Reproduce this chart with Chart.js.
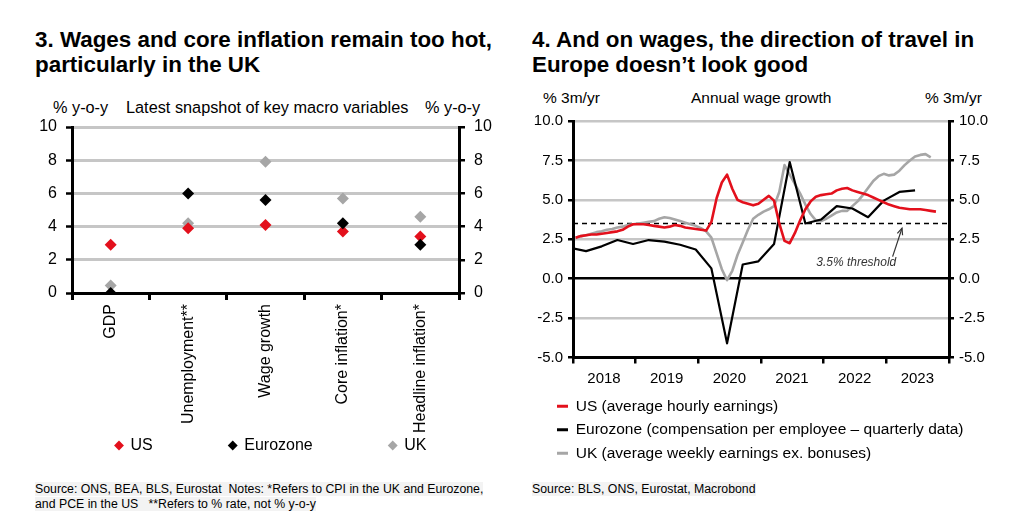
<!DOCTYPE html>
<html><head><meta charset="utf-8">
<script src="https://cdn.jsdelivr.net/npm/chart.js@4.4.0/dist/chart.umd.min.js"></script>
<style>
body{margin:0;background:#fff;width:1024px;height:531px;overflow:hidden;position:relative;font-family:"Liberation Sans",Arial,sans-serif;color:#000}
.t{position:absolute;white-space:nowrap}
.title{font-weight:bold;font-size:22.4px;line-height:25px}
.sub1{font-size:16.3px;line-height:18px;top:98px}
.sub2{font-size:15.5px;line-height:18px;top:89px}
.src{font-size:12.3px;line-height:14.5px;top:482px}
.src span{background:#f3f3f3}
#c1wrap{position:absolute;left:0;top:95px;width:520px;height:368px}
#c2wrap{position:absolute;left:520px;top:85px;width:504px;height:386px}
</style></head>
<body>
<div class="t title" style="left:35px;top:27px">3. Wages and core inflation remain too hot,<br>particularly in the UK</div>
<div class="t title" style="left:532px;top:27px">4. And on wages, the direction of travel in<br>Europe doesn’t look good</div>

<div class="t sub1" style="left:53px">% y-o-y</div>
<div class="t sub1" style="left:126px">Latest snapshot of key macro variables</div>
<div class="t sub1" style="left:425px">% y-o-y</div>

<div class="t sub2" style="left:543px">% 3m/yr</div>
<div class="t sub2" style="left:691px">Annual wage growth</div>
<div class="t sub2" style="left:925px">% 3m/yr</div>

<div id="c1wrap"><canvas id="c1"></canvas></div>
<div id="c2wrap"><canvas id="c2"></canvas></div>

<div class="t src" style="left:35px"><span>Source: ONS, BEA, BLS, Eurostat&nbsp; Notes: *Refers to CPI in the UK and Eurozone,</span><br><span>and PCE in the US &nbsp; **Refers to % rate, not % y-o-y</span></div>
<div class="t src" style="left:532px"><span>Source: BLS, ONS, Eurostat, Macrobond</span></div>

<script>
// ---------- Chart 3 data ----------
const snapCategories = ['GDP', 'Unemployment**', 'Wage growth', 'Core inflation*', 'Headline inflation*'];
const snapUS = [2.9, 3.9, 4.1, 3.7, 3.4];
const snapEZ = [0.0, 6.0, 5.6, 4.2, 2.9];
const snapUK = [0.45, 4.2, 7.9, 5.7, 4.6];
const snapTicks = [0, 2, 4, 6, 8, 10];

// ---------- Chart 4 data ----------
const wageStartYear = 2018;  // monthly series begin Jan 2018
const usWages = [2.6, 2.7, 2.75, 2.8, 2.8, 2.85, 2.9, 2.95, 3.0, 3.1, 3.3, 3.45,
  3.45, 3.45, 3.4, 3.35, 3.3, 3.25, 3.3, 3.4, 3.35, 3.25, 3.2, 3.15,
  3.1, 3.05, 3.6, 5.1, 6.1, 6.6, 5.7, 5.0, 4.85, 4.75, 4.65, 4.75,
  5.0, 5.25, 4.95, 3.5, 2.4, 2.25, 2.9, 3.7, 4.4, 4.9, 5.2, 5.3,
  5.35, 5.4, 5.6, 5.7, 5.75, 5.6, 5.5, 5.4, 5.3, 5.15, 5.0, 4.85,
  4.7, 4.6, 4.5, 4.45, 4.4, 4.4, 4.4, 4.35, 4.3, 4.25];
const ukWages = [2.6, 2.7, 2.75, 2.85, 2.95, 3.0, 3.1, 3.15, 3.25, 3.3, 3.4, 3.45,
  3.5, 3.55, 3.6, 3.65, 3.8, 3.9, 3.85, 3.75, 3.65, 3.55, 3.45, 3.35,
  3.2, 3.0, 2.6, 1.6, 0.6, -0.1, 0.5, 1.5, 2.3, 3.1, 3.8, 4.05,
  4.25, 4.4, 4.6, 5.5, 7.2, 6.6, 6.0, 5.4, 4.7, 4.1, 3.7, 3.65,
  3.8, 4.0, 4.2, 4.3, 4.3, 4.6, 4.9, 5.3, 5.75, 6.2, 6.5, 6.65,
  6.55, 6.6, 6.85, 7.2, 7.5, 7.75, 7.85, 7.9, 7.7];
const ezQuarters = ['2017Q4',
  '2018Q1', '2018Q2', '2018Q3', '2018Q4', '2019Q1', '2019Q2', '2019Q3', '2019Q4',
  '2020Q1', '2020Q2', '2020Q3', '2020Q4', '2021Q1', '2021Q2', '2021Q3', '2021Q4',
  '2022Q1', '2022Q2', '2022Q3', '2022Q4', '2023Q1', '2023Q2'];
const ezWages = [1.95,
  1.75, 2.05, 2.45, 2.2, 2.45, 2.35, 2.15, 1.85,
  0.65, -4.1, 0.9, 1.1, 2.2, 7.4, 3.5, 3.75,
  4.6, 4.45, 3.9, 4.95, 5.5, 5.6];
const yearLabels = ['2018', '2019', '2020', '2021', '2022', '2023'];
const wageTicks = [-5, -2.5, 0, 2.5, 5, 7.5, 10];
const thresholdLevel = 3.5;
const thresholdNote = {text: '3.5% threshold', x: 2022.52, y: 1.0, from: [2023.1, 1.4], to: [2023.25, 3.2]};

// ---------- helpers ----------
const monthX = i => wageStartYear + (i + 0.5) / 12;
const quarterX = q => { const y = +q.slice(0, 4), n = +q.slice(5); return y + (n * 3 - 0.5) / 12; };
const RED = '#e3101c', BLACK = '#000', GREY = '#a6a6a6', GRID = '#c6c6c6';
Chart.defaults.font.family = '"Liberation Sans", Arial, sans-serif';
Chart.defaults.color = '#000';
Chart.defaults.animation = false;
const baseLabels = Chart.defaults.plugins.legend.labels.generateLabels;

// places the legend box (canvas px) after the layout is computed
const legendPlace = {
  id: 'legendPlace',
  afterLayout(chart, args, opts) {
    const lg = chart.legend;
    if (!lg) return;
    if (opts.left != null) lg.left = opts.left;
    if (opts.top != null) { lg.top = opts.top; lg.bottom = opts.top + opts.height; lg.height = opts.height; }
  }
};

// ---------- Chart 3 ----------
new Chart(document.getElementById('c1'), {
  type: 'line',
  data: {
    labels: snapCategories,
    datasets: [
      {label: 'US', data: snapUS, order: 1, color: RED},
      {label: 'Eurozone', data: snapEZ, order: 0, color: BLACK},
      {label: 'UK', data: snapUK, order: 2, color: GREY}
    ].map(d => ({label: d.label, data: d.data, order: d.order, showLine: false,
      pointStyle: 'rectRot', pointRadius: 6, pointHoverRadius: 6,
      backgroundColor: d.color, borderColor: d.color, pointBorderWidth: 0, borderWidth: 0}))
  },
  plugins: [legendPlace],
  options: {
    responsive: true, maintainAspectRatio: false,
    layout: {padding: {top: 32, left: 0, right: 0, bottom: 0}},
    plugins: {
      tooltip: {enabled: false},
      legendPlace: {left: 39, top: 266, height: 104},
      legend: {
        position: 'bottom', align: 'start', maxHeight: 30,
        labels: {
          usePointStyle: true, boxWidth: 7, boxHeight: 7, padding: 76.5,
          font: {size: 16}, color: '#000',
          generateLabels: ch => baseLabels(ch).sort((a, b) => a.datasetIndex - b.datasetIndex)
            .map(l => Object.assign(l, {lineWidth: 0}))
        }
      }
    },
    scales: {
      x: {
        type: 'category', offset: true,
        grid: {offset: true, drawOnChartArea: false, color: '#000', lineWidth: 3, tickLength: 7},
        border: {color: '#000', width: 3},
        ticks: {minRotation: 90, maxRotation: 90, autoSkip: false, font: {size: 16}, color: '#000', padding: 4},
        afterFit: s => { s.height = 140; }
      },
      y: {
        position: 'left', min: 0, max: 10,
        afterBuildTicks: s => { s.ticks = snapTicks.map(v => ({value: v})); },
        ticks: {autoSkip: false, font: {size: 16}, color: '#000', padding: 9},
        grid: {color: c => c.tick && c.tick.value === 0 ? 'rgba(0,0,0,0)' : GRID, lineWidth: 3,
               tickColor: '#000', tickLength: 6, tickWidth: 2.5},
        border: {color: '#000', width: 3},
        afterFit: s => { s.width = 72; }
      },
      y2: {
        position: 'right', min: 0, max: 10,
        afterBuildTicks: s => { s.ticks = snapTicks.map(v => ({value: v})); },
        ticks: {autoSkip: false, font: {size: 16}, color: '#000', padding: 9},
        grid: {drawOnChartArea: false, color: '#000', tickLength: 6, lineWidth: 2.5},
        border: {color: '#000', width: 3},
        afterFit: s => { s.width = 61; }
      }
    }
  }
});

// ---------- Chart 4 ----------
const notePlugin = {
  id: 'notePlugin',
  afterDatasetsDraw(chart) {
    const {ctx, scales: {x, y}} = chart;
    ctx.save();
    ctx.fillStyle = '#333';
    ctx.strokeStyle = '#333';
    ctx.font = 'italic 12px "Liberation Sans", Arial, sans-serif';
    ctx.textAlign = 'center';
    ctx.textBaseline = 'middle';
    ctx.fillText(thresholdNote.text, x.getPixelForValue(thresholdNote.x), y.getPixelForValue(thresholdNote.y));
    const x0 = x.getPixelForValue(thresholdNote.from[0]), y0 = y.getPixelForValue(thresholdNote.from[1]);
    const x1 = x.getPixelForValue(thresholdNote.to[0]), y1 = y.getPixelForValue(thresholdNote.to[1]);
    ctx.lineWidth = 1.2;
    ctx.beginPath(); ctx.moveTo(x0, y0); ctx.lineTo(x1, y1); ctx.stroke();
    const ang = Math.atan2(y1 - y0, x1 - x0), L = 7;
    ctx.beginPath();
    ctx.moveTo(x1 - L * Math.cos(ang - 0.4), y1 - L * Math.sin(ang - 0.4));
    ctx.lineTo(x1, y1);
    ctx.lineTo(x1 - L * Math.cos(ang + 0.4), y1 - L * Math.sin(ang + 0.4));
    ctx.stroke();
    ctx.restore();
  }
};

const lineDS = (label, data, color, width) => ({label, data, borderColor: color, backgroundColor: color,
  borderWidth: width, pointRadius: 0, pointHoverRadius: 0, tension: 0, fill: false, borderJoinStyle: 'round'});

new Chart(document.getElementById('c2'), {
  type: 'line',
  data: {
    datasets: [
      lineDS('US (average hourly earnings)', usWages.map((v, i) => ({x: monthX(i), y: v})), RED, 2.6),
      lineDS('Eurozone (compensation per employee – quarterly data)', ezWages.map((v, i) => ({x: quarterX(ezQuarters[i]), y: v})), BLACK, 2.2),
      lineDS('UK (average weekly earnings ex. bonuses)', ukWages.map((v, i) => ({x: monthX(i), y: v})), GREY, 2.6),
      Object.assign(lineDS('threshold', [{x: 2018, y: thresholdLevel}, {x: 2024, y: thresholdLevel}], BLACK, 1.4), {borderDash: [5, 4], order: 5})
    ]
  },
  plugins: [notePlugin, legendPlace],
  options: {
    responsive: true, maintainAspectRatio: false,
    layout: {padding: {top: 36, left: 0, right: 0, bottom: 0}},
    plugins: {
      tooltip: {enabled: false},
      legendPlace: {left: 29},
      legend: {
        position: 'bottom', align: 'start',
        labels: {
          boxWidth: 11, boxHeight: 3, padding: 8, font: {size: 15.5}, color: '#000',
          generateLabels: ch => baseLabels(ch).filter(l => l.datasetIndex < 3)
            .sort((a, b) => a.datasetIndex - b.datasetIndex)
            .map(l => Object.assign(l, {lineWidth: 0, lineDash: []}))
        }
      }
    },
    scales: {
      x: {
        type: 'linear', min: 2018, max: 2024,
        afterBuildTicks: s => { s.ticks = [2018, 2019, 2020, 2021, 2022, 2023, 2024].map(v => ({value: v})); },
        ticks: {labelOffset: 31, maxRotation: 0, autoSkip: false, font: {size: 15}, color: '#000', padding: 6,
                callback: v => yearLabels[Math.round(v) - 2018] || ''},
        grid: {drawOnChartArea: false, color: '#000', lineWidth: 2.5, tickLength: 6},
        border: {color: '#000', width: 3},
        afterFit: s => { s.height = 33; }
      },
      y: {
        position: 'left', min: -5, max: 10,
        afterBuildTicks: s => { s.ticks = wageTicks.map(v => ({value: v})); },
        ticks: {autoSkip: false, font: {size: 15}, color: '#000', padding: 5, callback: v => v.toFixed(1)},
        grid: {color: c => c.tick && c.tick.value === 0 ? '#000' : GRID, lineWidth: 2.5,
               tickColor: '#000', tickLength: 5, tickWidth: 2.5},
        border: {color: '#000', width: 3},
        afterFit: s => { s.width = 53; }
      },
      y2: {
        position: 'right', min: -5, max: 10,
        afterBuildTicks: s => { s.ticks = wageTicks.map(v => ({value: v})); },
        ticks: {autoSkip: false, font: {size: 15}, color: '#000', padding: 5, callback: v => v.toFixed(1)},
        grid: {drawOnChartArea: false, color: '#000', tickLength: 5, lineWidth: 2.5},
        border: {color: '#000', width: 3},
        afterFit: s => { s.width = 75; }
      }
    }
  }
});
</script>
</body></html>
